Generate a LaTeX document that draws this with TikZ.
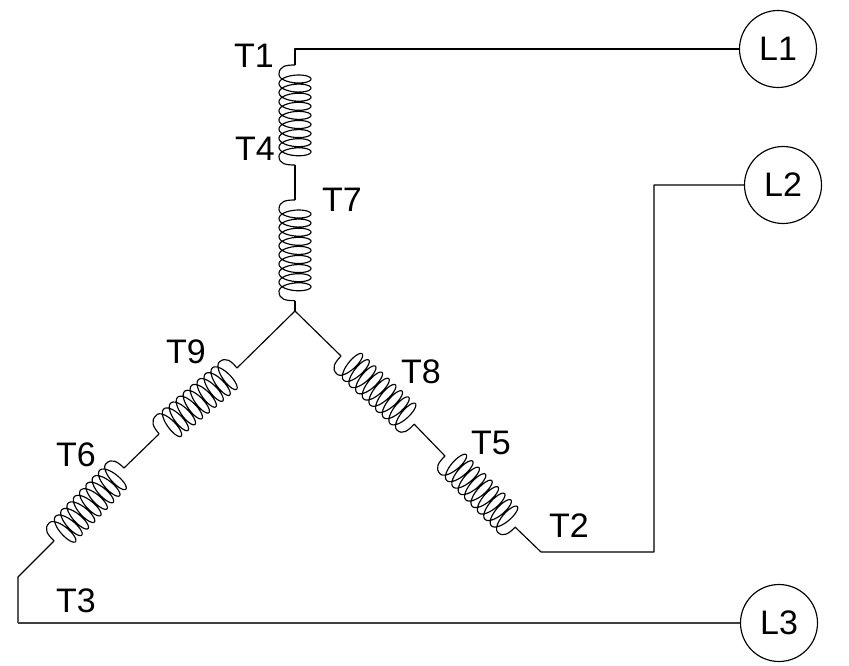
\documentclass[tikz,border=0pt]{standalone}
\usepackage{fontspec}
\setmainfont{Liberation Sans}
\newcommand{\mycoil}[3]{%
  \begin{scope}[shift={(#1)},rotate=#2,x=1pt,y=1pt]
    \draw[wire] (0,0) .. controls (0,-9) and (1,-16) .. (9.45,-16)
      -- plot[domain=0:56.549,samples=325,smooth] ({9.45+1.448*\x+6.1*sin(\x r)},{-16*cos(\x r)})
      .. controls (#3-1,-16) and (#3,-9) .. (#3,0);
  \end{scope}}
\tikzset{
  wire/.style={draw=black,line width=1.15pt,line join=round},
  heavy/.style={draw=black!75,line width=1.7pt},
  lab/.style={font=\fontsize{34}{34}\selectfont,inner sep=0pt,text=black},
  term/.style={circle,draw=black,line width=1.15pt,minimum size=77pt,inner sep=0pt,font=\fontsize{34}{34}\selectfont}
}
\begin{document}
\begin{tikzpicture}[x=1pt,y=-1pt]
\useasboundingbox (0,0) rectangle (849,666);
\node[term] (L1) at (778,49) {L1};
\node[term] (L2) at (783,185) {L2};
\node[term] (L3) at (779,623) {L3};
\coordinate (a1) at (295,65);
\coordinate (a2) at (295,165);
\coordinate (b1) at (295,200);
\coordinate (b2) at (295,300.7);
\coordinate (j) at (295,311);
\coordinate (c1) at (341,356);
\coordinate (c2) at (414,424);
\coordinate (d1) at (445,456);
\coordinate (d2) at (515,527);
\coordinate (e) at (541,552);
\coordinate (f) at (654,552);
\coordinate (g1) at (237,368);
\coordinate (g2) at (159,434);
\coordinate (h1) at (124,468);
\coordinate (h2) at (54,541);
\coordinate (k) at (18,577);
\coordinate (m) at (18,623);
\mycoil{a1}{-90}{100}
\mycoil{b1}{-90}{100.7}
\mycoil{c1}{-43}{100}
\mycoil{d1}{-45.4}{100}
\mycoil{g1}{-139.8}{102}
\mycoil{h1}{-133.8}{101}
\draw[wire] (a1) |- (L1.west);
\draw[wire] (a2) -- (b1);
\draw[wire] (b2) -- (j);
\draw[wire] (j) -- (c1);
\draw[wire] (c2) -- (d1);
\draw[wire] (d2) -- (e) -- (f) |- (L2.west);
\draw[wire] (j) -- (g1);
\draw[wire] (g2) -- (h1);
\draw[wire] (h2) -- (k) -- (m);
\draw[heavy] (m) -- (L3.west);
\node[lab] (T1) at (254,55.5) {T1};
\node[lab] (T4) at (255,149) {T4};
\node[lab] (T7) at (342,200) {T7};
\node[lab] (T8) at (421,372) {T8};
\node[lab] (T9) at (186,352) {T9};
\node[lab] (T6) at (76,455) {T6};
\node[lab] (T5) at (491,443) {T5};
\node[lab] (T2) at (569,526) {T2};
\node[lab] (T3) at (76,601) {T3};
\end{tikzpicture}
\end{document}
